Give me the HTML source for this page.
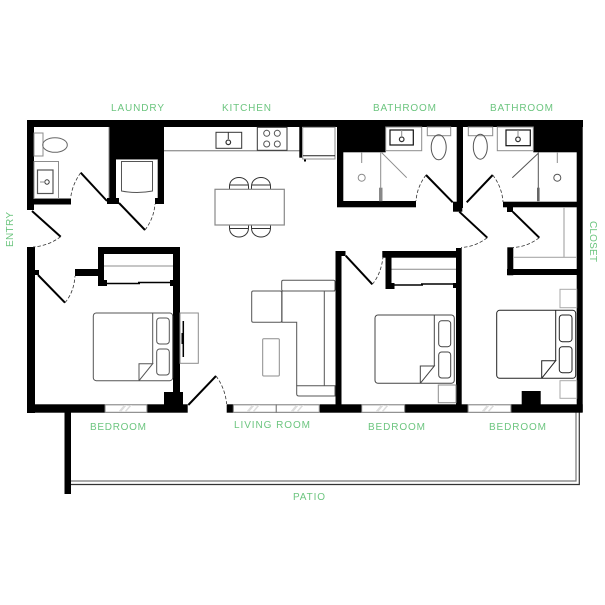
<!DOCTYPE html>
<html><head><meta charset="utf-8"><style>
html,body{margin:0;padding:0;background:#fff;width:605px;height:605px;overflow:hidden}
svg{display:block}
text{font-family:"Liberation Sans",sans-serif;font-size:10px;fill:#6cc57f}
.t{fill:none;stroke:#333;stroke-width:1}
.g{fill:none;stroke:#8c8c8c;stroke-width:1}
.d{fill:none;stroke:#000;stroke-width:2}
.a{fill:none;stroke:#333;stroke-width:.8;stroke-dasharray:3.5 2}
.k{fill:#000}
</style></head><body>
<svg width="605" height="605" viewBox="0 0 605 605" xmlns="http://www.w3.org/2000/svg">
<!-- labels -->
<text x="111" y="111" textLength="53">LAUNDRY</text>
<text x="222" y="111" textLength="49">KITCHEN</text>
<text x="373" y="111" textLength="63">BATHROOM</text>
<text x="490" y="111" textLength="63">BATHROOM</text>
<text transform="translate(13,247) rotate(-90)" textLength="35">ENTRY</text>
<text transform="translate(590,221) rotate(90)" textLength="41">CLOSET</text>
<text x="90" y="430" textLength="56">BEDROOM</text>
<text x="234" y="428" textLength="76">LIVING ROOM</text>
<text x="368" y="430" textLength="57">BEDROOM</text>
<text x="489" y="430" textLength="57">BEDROOM</text>
<text x="293" y="500" textLength="32">PATIO</text>
<!-- patio -->
<path d="M71 481H576V412" fill="none" stroke="#777" stroke-width="1.2"/>
<path d="M71 484.5H579.3V412" fill="none" stroke="#333" stroke-width="1.2"/>
<rect class="k" x="64.5" y="412" width="6.5" height="82"/>
<!-- walls -->
<g class="k">
<rect x="27" y="120" width="556" height="7"/>
<rect x="27" y="120" width="7" height="90"/>
<rect x="27" y="198.5" width="44" height="6"/>
<rect x="109" y="120" width="55" height="39.5"/>
<rect x="109" y="159" width="7" height="45"/>
<rect x="157.7" y="159" width="6.3" height="45"/>
<rect x="107" y="198" width="12" height="6"/>
<rect x="155" y="198" width="9" height="6"/>
<rect x="27" y="247" width="8" height="166"/>
<rect x="27" y="404.3" width="78" height="8.4"/>
<rect x="147" y="404.3" width="40.7" height="8.4"/>
<rect x="34" y="270" width="5" height="5"/>
<rect x="75" y="269" width="25" height="7"/>
<rect x="98" y="247" width="82" height="7"/>
<rect x="98" y="247" width="6" height="39"/>
<rect x="98" y="280" width="9" height="6"/>
<rect x="173" y="247" width="7" height="158"/>
<rect x="170" y="280" width="5" height="6"/>
<rect x="164" y="392" width="19" height="13"/>
<rect x="226.7" y="404.3" width="6.6" height="8.4"/>
<rect x="319.7" y="404.3" width="42" height="8.4"/>
<rect x="404.7" y="404.3" width="63.3" height="8.4"/>
<rect x="511" y="404.3" width="71.7" height="8.4"/>
<rect x="335.5" y="251" width="6" height="154"/>
<rect x="335.5" y="251" width="10" height="5"/>
<rect x="382.3" y="251" width="77" height="6.7"/>
<rect x="385.5" y="251" width="6" height="38"/>
<rect x="385.5" y="283" width="9" height="6"/>
<rect x="456" y="248" width="5.7" height="157"/>
<rect x="453" y="283" width="3" height="5"/>
<rect x="521.7" y="391" width="19" height="14"/>
<rect x="576.7" y="120" width="6" height="292"/>
<rect x="507" y="269" width="70" height="6"/>
<rect x="507.3" y="247.3" width="6" height="28"/>
<rect x="503" y="201.7" width="74" height="5.6"/>
<rect x="507" y="207" width="6" height="5"/>
<rect x="533.3" y="120" width="49" height="32.3"/>
<rect x="456.7" y="120" width="6.3" height="88"/>
<rect x="453" y="201.7" width="9.3" height="10"/>
<rect x="337" y="120" width="48.7" height="32.3"/>
<rect x="337" y="120" width="6.3" height="87"/>
<rect x="337" y="201" width="79" height="6.3"/>
</g>
<!-- windows -->
<g fill="#fff" stroke="#777" stroke-width="1">
<rect x="105" y="404.8" width="42" height="7.5"/>
<rect x="233.3" y="404.8" width="43" height="7.5"/>
<rect x="276.3" y="404.8" width="43" height="7.5"/>
<rect x="361.7" y="404.8" width="43" height="7.5"/>
<rect x="468" y="404.8" width="43" height="7.5"/>
</g>
<g fill="#ddd">
<path d="M118 412l6-7h3l-6 7zM124 412l6-7h2l-6 7z"/>
<path d="M246 412l6-7h3l-6 7zM252 412l6-7h2l-6 7z"/>
<path d="M290 412l6-7h3l-6 7zM296 412l6-7h2l-6 7z"/>
<path d="M375 412l6-7h3l-6 7zM381 412l6-7h2l-6 7z"/>
<path d="M481 412l6-7h3l-6 7zM487 412l6-7h2l-6 7z"/>
</g>
<!-- doors -->
<g class="d">
<path d="M80.7 172.7L107 201"/>
<path d="M119 203L145 230"/>
<path d="M32 211L60.7 236.7"/>
<path d="M38 275L65 302.7"/>
<path d="M188.3 405L216 376"/>
<path d="M345.7 255.7L372.3 284.3"/>
<path d="M426 175L452.7 202.3"/>
<path d="M466.7 202.3L492.7 175"/>
<path d="M459.3 211.7L487.3 237.7"/>
<path d="M512.7 211.7L539.3 237.7"/>
</g>
<g class="a">
<path d="M80.7 172.7Q72 185 70.7 198"/>
<path d="M145 230Q154 218 155 204"/>
<path d="M60.7 236.7Q48 246 33 247"/>
<path d="M65 302.7Q74 292 75 276"/>
<path d="M216 376Q225 388 226.7 404"/>
<path d="M372.3 284.3Q381 274 383 257"/>
<path d="M426 175Q417 187 416 201"/>
<path d="M492.7 175Q502 187 503 202"/>
<path d="M487.3 237.7Q475 247 461 247.5"/>
<path d="M539.3 237.7Q527 247 513 247.5"/>
</g>
<!-- laundry bath -->
<rect class="g" x="34" y="133" width="9" height="23"/>
<rect class="g" x="34" y="161.5" width="24.5" height="37"/>
<rect class="g" x="37.5" y="170" width="15.5" height="23.5" style="stroke:#555;stroke-width:1.2"/>
<path class="g" d="M109 127V198"/>
<ellipse class="t" cx="55" cy="145" rx="12.3" ry="7.3" style="stroke:#666"/>
<circle class="t" cx="47" cy="182" r="2.2"/>
<path class="g" d="M40 182H45"/>
<!-- washer -->
<path class="t" style="stroke:#555" d="M121.5 161.5H152.5V191Q137 194 121.5 191Z"/>
<path class="g" d="M116 159.5H157.7"/>
<!-- kitchen -->
<path d="M164 150.7H299.5" fill="none" stroke="#999" stroke-width="1.4"/>
<rect class="t" x="216" y="132.3" width="25.7" height="16"/>
<circle class="t" cx="228.3" cy="142.3" r="2.3" style="stroke-width:1.2"/>
<path class="t" d="M228.3 132.3V139"/>
<rect class="t" x="257.3" y="127.3" width="29.7" height="23"/>
<g class="t" style="stroke:#555">
<circle cx="266.7" cy="133.3" r="3"/><circle cx="277.3" cy="133.3" r="3"/>
<circle cx="266.7" cy="144" r="3"/><circle cx="277.3" cy="144" r="3"/>
</g>
<rect class="k" x="299.3" y="127" width="2.7" height="30.7"/>
<rect class="g" x="302.7" y="127.3" width="32.3" height="31.7"/>
<path d="M303 155.7H335" stroke="#222" stroke-width="1"/>
<rect class="k" x="304" y="159.5" width="2" height="2"/>
<!-- table -->
<g class="t">
<path d="M229.5 189V186.5C229.5 174.5 248.5 174.5 248.5 186.5V189M229.5 185H248.5"/>
<path d="M251.5 189V186.5C251.5 174.5 270.5 174.5 270.5 186.5V189M251.5 185H270.5"/>
<path d="M229.5 225V228C229.5 240 248.5 240 248.5 228V225M229.5 228.5H248.5"/>
<path d="M251.5 225V228C251.5 240 270.5 240 270.5 228V225M251.5 228.5H270.5"/>
</g>
<rect x="215" y="189.3" width="69.3" height="35.7" fill="#fff" stroke="#888" stroke-width="1.2"/>
<!-- sofa -->
<g class="t" style="stroke:#555">
<rect x="281.7" y="280.3" width="53.3" height="10.7" rx="1.5"/>
<rect x="251.7" y="291" width="30" height="31.3" rx="1.5"/>
<path d="M282 291H335M282 291V322.3H296.7V385.7M324.3 291V385.7"/>
<path d="M296.7 385.7H335V396H299Q296.7 396 296.7 394Z"/>
</g>
<rect x="262.7" y="338.7" width="16.6" height="37.3" class="g" rx="1"/>
<!-- bed 1 -->
<g class="t" style="stroke:#555">
<rect x="93.3" y="313" width="79.4" height="67.7" rx="3"/>
<path d="M152.7 313V363.7"/>
<rect x="156.7" y="318" width="12.6" height="26" rx="3"/>
<rect x="156.7" y="349" width="12.6" height="26" rx="3"/>
<path d="M139 380.7V363.7H152.7L139 380.7"/>
</g>
<path class="g" d="M104 266H173"/>
<path d="M104 283.5H140M138 282.5H173" stroke="#000" stroke-width="1.6"/>
<rect class="g" x="180" y="313" width="18.3" height="50.3"/>
<path d="M183.3 321V357" stroke="#000" stroke-width="1.5"/>
<rect class="k" x="181.5" y="333" width="1.5" height="11"/>
<!-- bath 1 -->
<rect class="g" x="385.7" y="127" width="36" height="23.7"/>
<rect class="g" x="427.3" y="127" width="23.4" height="8.7"/>
<path class="g" d="M381.7 152.7L406.7 177.7"/>
<path class="g" d="M380.7 152V188"/>
<rect x="379" y="187.7" width="3.5" height="13.5" fill="#888"/>
<rect class="t" x="390" y="130" width="23.3" height="15" style="stroke:#111;stroke-width:1.2"/>
<circle class="t" cx="401.7" cy="139.3" r="2.3" style="stroke-width:1.2"/>
<path class="g" d="M401.7 130V137"/>
<ellipse class="t" cx="438.7" cy="147.3" rx="7.5" ry="12.5" style="stroke:#555"/>
<circle class="g" cx="361.7" cy="177.7" r="3.5"/>
<path class="g" d="M361.7 152V163"/>
<!-- bath 2 -->
<rect class="g" x="497.3" y="127" width="36" height="23.7"/>
<rect class="g" x="468.3" y="127" width="24.4" height="8.7"/>
<path class="t" style="stroke:#555" d="M538.3 153.3L512.3 177.7M538.3 152V188"/>
<rect x="537" y="187.7" width="2.6" height="13.5" fill="#666"/>
<rect class="t" x="506" y="130" width="24.3" height="15.7" style="stroke:#111;stroke-width:1.2"/>
<circle class="t" cx="518" cy="139.3" r="2.3" style="stroke-width:1.2"/>
<path class="g" d="M518 130V137"/>
<ellipse class="t" cx="480.3" cy="146.7" rx="7" ry="12.5" style="stroke:#555"/>
<circle class="t" cx="557.3" cy="177.7" r="3.5" style="stroke:#555"/>
<path class="g" d="M557.3 152V163"/>
<!-- closet -->
<path d="M564 207V257.3M513 257.3H577" fill="none" stroke="#aaa" stroke-width="1.2"/>
<!-- bed 2 -->
<g class="t" style="stroke:#444">
<rect x="375" y="315" width="79.3" height="68.3" rx="3"/>
<path d="M434.3 315V366"/>
<rect x="438.7" y="320.7" width="12" height="26" rx="3"/>
<rect x="438.7" y="352" width="12" height="26" rx="3"/>
<path d="M420.3 383.3V366H434.3L420.3 383.3"/>
</g>
<path class="g" d="M391.5 269.3H456"/>
<path d="M391.5 285H423M421 284H456" stroke="#000" stroke-width="1.6"/>
<rect class="g" x="438.3" y="385" width="17.7" height="17.7"/>
<!-- bed 3 -->
<g class="t" style="stroke:#222">
<rect x="496.7" y="310.3" width="79" height="68" rx="3"/>
<path d="M555.7 310.3V360.7"/>
<rect x="559.3" y="315" width="12.7" height="26.7" rx="3"/>
<rect x="559.3" y="346.7" width="12.7" height="26" rx="3"/>
<path d="M541.7 378.3V360.7H555.7L541.7 378.3"/>
</g>
<rect class="g" x="560" y="289.3" width="16.7" height="18.4" style="stroke:#aaa"/>
<rect class="g" x="560" y="380.7" width="16.7" height="17.6" style="stroke:#aaa"/>
</svg>
</body></html>
